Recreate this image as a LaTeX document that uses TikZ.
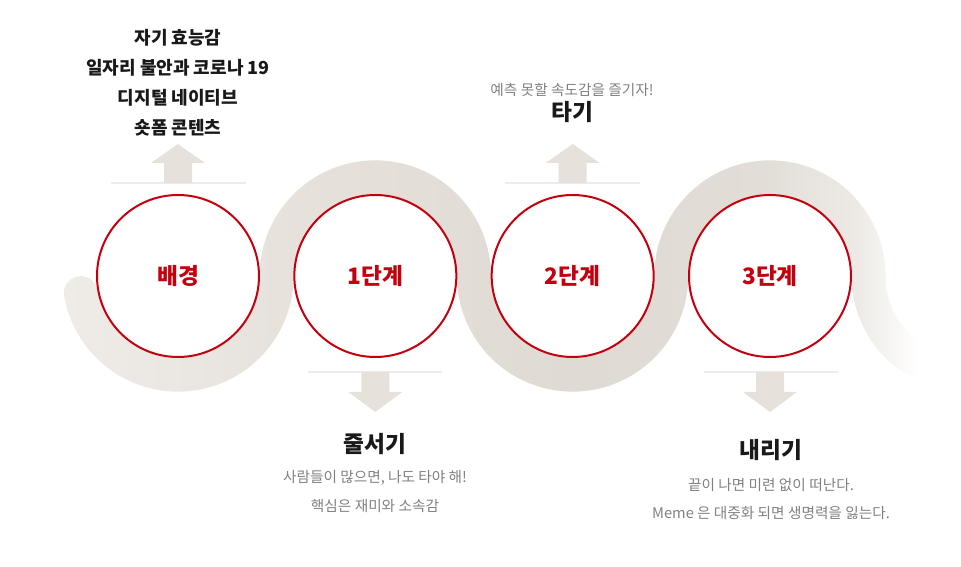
\documentclass[tikz,border=0pt]{standalone}
\usepackage{fontspec}
\setmainfont{Noto Sans CJK KR}
\usetikzlibrary{positioning, calc}
\definecolor{stagered}{HTML}{C4000F}
\definecolor{bandlight}{HTML}{EFECE8}
\definecolor{bandmid}{HTML}{E6E1DB}
\definecolor{banddark}{HTML}{DFDAD3}
\definecolor{bandfade}{HTML}{EDEAE6}
\definecolor{arrowgray}{HTML}{E6E1DA}
\definecolor{rulegray}{HTML}{EEEBE8}
\definecolor{notegray}{HTML}{808080}
\pgfdeclarehorizontalshading{bandshade}{100bp}{color(0bp)=(bandlight); color(25bp)=(bandlight); color(38.5bp)=(bandmid); color(54bp)=(banddark); color(64.8bp)=(banddark!60!bandmid); color(70.3bp)=(bandfade); color(73.8bp)=(white); color(100bp)=(white)}
\tikzstyle{stage} = [circle, minimum size=121.5pt, inner sep=0pt, draw=stagered, line width=1.5pt, fill=white, text=stagered, font=\bfseries\fontsize{17}{20}\selectfont]
\tikzstyle{band} = [shading=bandshade]
\tikzstyle{rule} = [draw=rulegray, line width=0.8pt]
\tikzstyle{blockarrow} = [fill=arrowgray]
\tikzstyle{title} = [text=black!90, font=\bfseries\fontsize{17}{20}\selectfont]
\tikzstyle{note} = [text=notegray, font=\fontsize{11}{14}\selectfont]
\tikzstyle{factors} = [align=center, text=black!90, font=\bfseries\fontsize{13.5}{22.5}\selectfont]

\begin{document}
\begin{tikzpicture}[x=0.75pt, y=0.75pt, node distance=148pt]
\useasboundingbox (0,0) rectangle (961,567);

% Wave band behind the stages (one side out, the other side back)
\shade[band] ($(178,291)+(190:115.65)$) arc[start angle=190, end angle=10, radius=17]
  arc[start angle=190, end angle=360, radius=81.65]
  arc[start angle=180, end angle=0, radius=115.65]
  arc[start angle=180, end angle=360, radius=81.65]
  arc[start angle=180, end angle=0, radius=115.65]
  arc[start angle=180, end angle=250, radius=81.65]
  -- ($(967.2,291)+(250:115.65)$)
  arc[start angle=250, end angle=180, radius=115.65]
  arc[start angle=0, end angle=180, radius=81.65]
  arc[start angle=0, end angle=-180, radius=115.65]
  arc[start angle=0, end angle=180, radius=81.65]
  arc[start angle=0, end angle=-170, radius=115.65] -- cycle;

% Stages
\node (bg) [stage] at (178,291) {배경};
\node (step1) [stage, right of=bg] {1단계};
\node (step2) [stage, right of=step1] {2단계};
\node (step3) [stage, right of=step2] {3단계};

% Arrow bases and tips
\coordinate (bgbase) at ($(bg.north)+(0,11)$);
\coordinate (bgtip) at ($(bgbase)+(0,39)$);
\coordinate (step2base) at ($(step2.north)+(0,11)$);
\coordinate (step2tip) at ($(step2base)+(0,39)$);
\coordinate (step1base) at ($(step1.south)+(0,-14)$);
\coordinate (step1tip) at ($(step1base)+(0,-40)$);
\coordinate (step3base) at ($(step3.south)+(0,-14)$);
\coordinate (step3tip) at ($(step3base)+(0,-40)$);

% Rules
\draw[rule] ($(bgbase)+(-67,0)$) -- ($(bgbase)+(68,0)$);
\draw[rule] ($(step2base)+(-68,0)$) -- ($(step2base)+(67,0)$);
\draw[rule] ($(step1base)+(-67,0)$) -- ($(step1base)+(67,0)$);
\draw[rule] ($(step3base)+(-66,0)$) -- ($(step3base)+(68,0)$);

% Arrows
\fill[blockarrow] (bgbase) ++(-14,0) -- ++(0,20) -- ++(-13,0) -- (bgtip) -- ++(27,-19) -- ++(-13,0) -- ++(0,-20) -- cycle;
\fill[blockarrow] (step2base) ++(-14,0) -- ++(0,20) -- ++(-13,0) -- (step2tip) -- ++(27,-19) -- ++(-13,0) -- ++(0,-20) -- cycle;
\fill[blockarrow] (step1base) ++(-14,0) -- ++(0,-20) -- ++(-13,0) -- (step1tip) -- ++(27,20) -- ++(-13,0) -- ++(0,20) -- cycle;
\fill[blockarrow] (step3base) ++(-14,0) -- ++(0,-20) -- ++(-13,0) -- (step3tip) -- ++(27,20) -- ++(-13,0) -- ++(0,20) -- cycle;

% Texts
\node (bgfactors) [factors] at (178,484) {자기 효능감\\일자리 불안과 코로나 19\\디지털 네이티브\\숏폼 콘텐츠};
\node (step2title) [title] at (572,455) {타기};
\node (step2note) [note] at (572,477) {예측 못할 속도감을 즐기자!};
\node (step1title) [title] at (375,123) {줄서기};
\node (step1note) [note] at (375,89) {사람들이 많으면, 나도 타야 해!};
\node (step1note2) [note] at (375,61) {핵심은 재미와 소속감};
\node (step3title) [title] at (771,117) {내리기};
\node (step3note) [note] at (771,82) {끝이 나면 미련 없이 떠난다.};
\node (step3note2) [note] at (771,54) {Meme 은 대중화 되면 생명력을 잃는다.};

\end{tikzpicture}
\end{document}
